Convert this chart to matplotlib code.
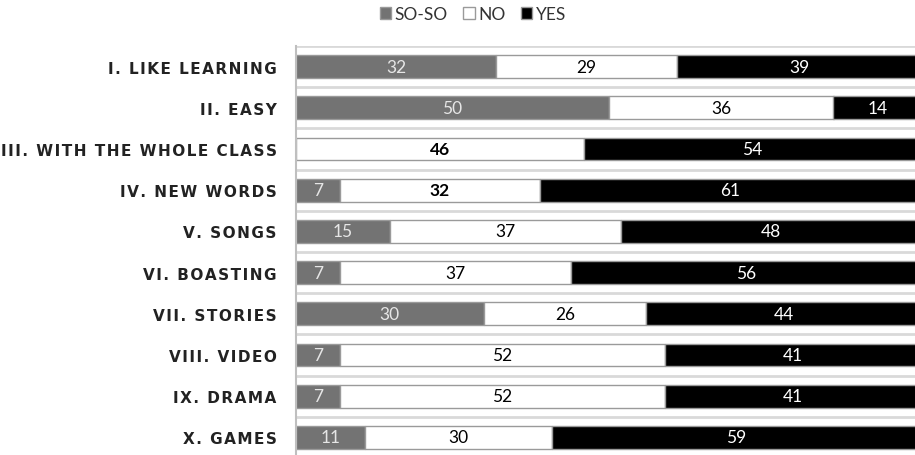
import matplotlib.pyplot as plt
import numpy as np

categories = ["I. LIKE LEARNING", "II. EASY", "III. WITH THE WHOLE CLASS",
              "IV. NEW WORDS", "V. SONGS", "VI. BOASTING", "VII. STORIES",
              "VIII. VIDEO", "IX. DRAMA", "X. GAMES"]
soso = [32, 50, 0, 7, 15, 7, 30, 7, 7, 11]
no = [29, 36, 46, 32, 37, 37, 26, 52, 52, 30]
yes = [39, 14, 54, 61, 48, 56, 44, 41, 41, 59]

series = [("SO-SO", soso, "#737373", "#e6e6e6"),
          ("NO", no, "white", "black"),
          ("YES", yes, "black", "white")]

fig = plt.figure(figsize=(9.15, 4.56), dpi=100)
ax = fig.add_axes([296 / 915, 1 - 459 / 456, 625 / 915, 412 / 456])

y = np.arange(len(categories))
left = np.zeros(len(categories))
handles = []
for name, vals, color, tcolor in series:
    vals = np.array(vals, dtype=float)
    bars = ax.barh(y, vals, left=left, height=0.55, color=color,
                   edgecolor="#9a9a9a", linewidth=1.0, label=name)
    handles.append(bars)
    for i, v in enumerate(vals):
        if v > 0:
            bold = (name == "NO" and i in (2, 3))
            ax.text(left[i] + v / 2, y[i], f"{int(v)}", ha="center", va="center",
                    color=tcolor, fontsize=12.5, family="Lato",
                    fontweight="bold" if bold else "normal")
    left += vals

# spaced-out category labels
spaced = ["\u200a".join(c) for c in categories]

ax.set_xlim(0, 100)
ax.set_ylim(len(categories) - 0.5, -0.5)
ax.set_yticks(y)
ax.set_yticklabels(spaced, fontsize=11, fontweight="bold", family="DejaVu Sans",
                   color="#222222")
ax.tick_params(axis="y", length=0, pad=14)
ax.set_xticks([])

# category separators
for b in np.arange(-0.5, len(categories) + 0.5, 1):
    ax.axhline(b, color="#d9d9d9", linewidth=2, zorder=0)

for s in ["top", "right", "bottom"]:
    ax.spines[s].set_visible(False)
ax.spines["left"].set_color("#bfbfbf")
ax.spines["left"].set_linewidth(1.5)

fig.legend(handles=handles, loc="center", bbox_to_anchor=(473 / 915, 1 - 15 / 456),
           ncol=3, frameon=False, prop={"family": "Lato", "size": 12.5},
           labelcolor="#333333",
           handlelength=0.65, handleheight=0.65, handletextpad=0.2, columnspacing=0.9)

fig.savefig("out.png", dpi=100)
